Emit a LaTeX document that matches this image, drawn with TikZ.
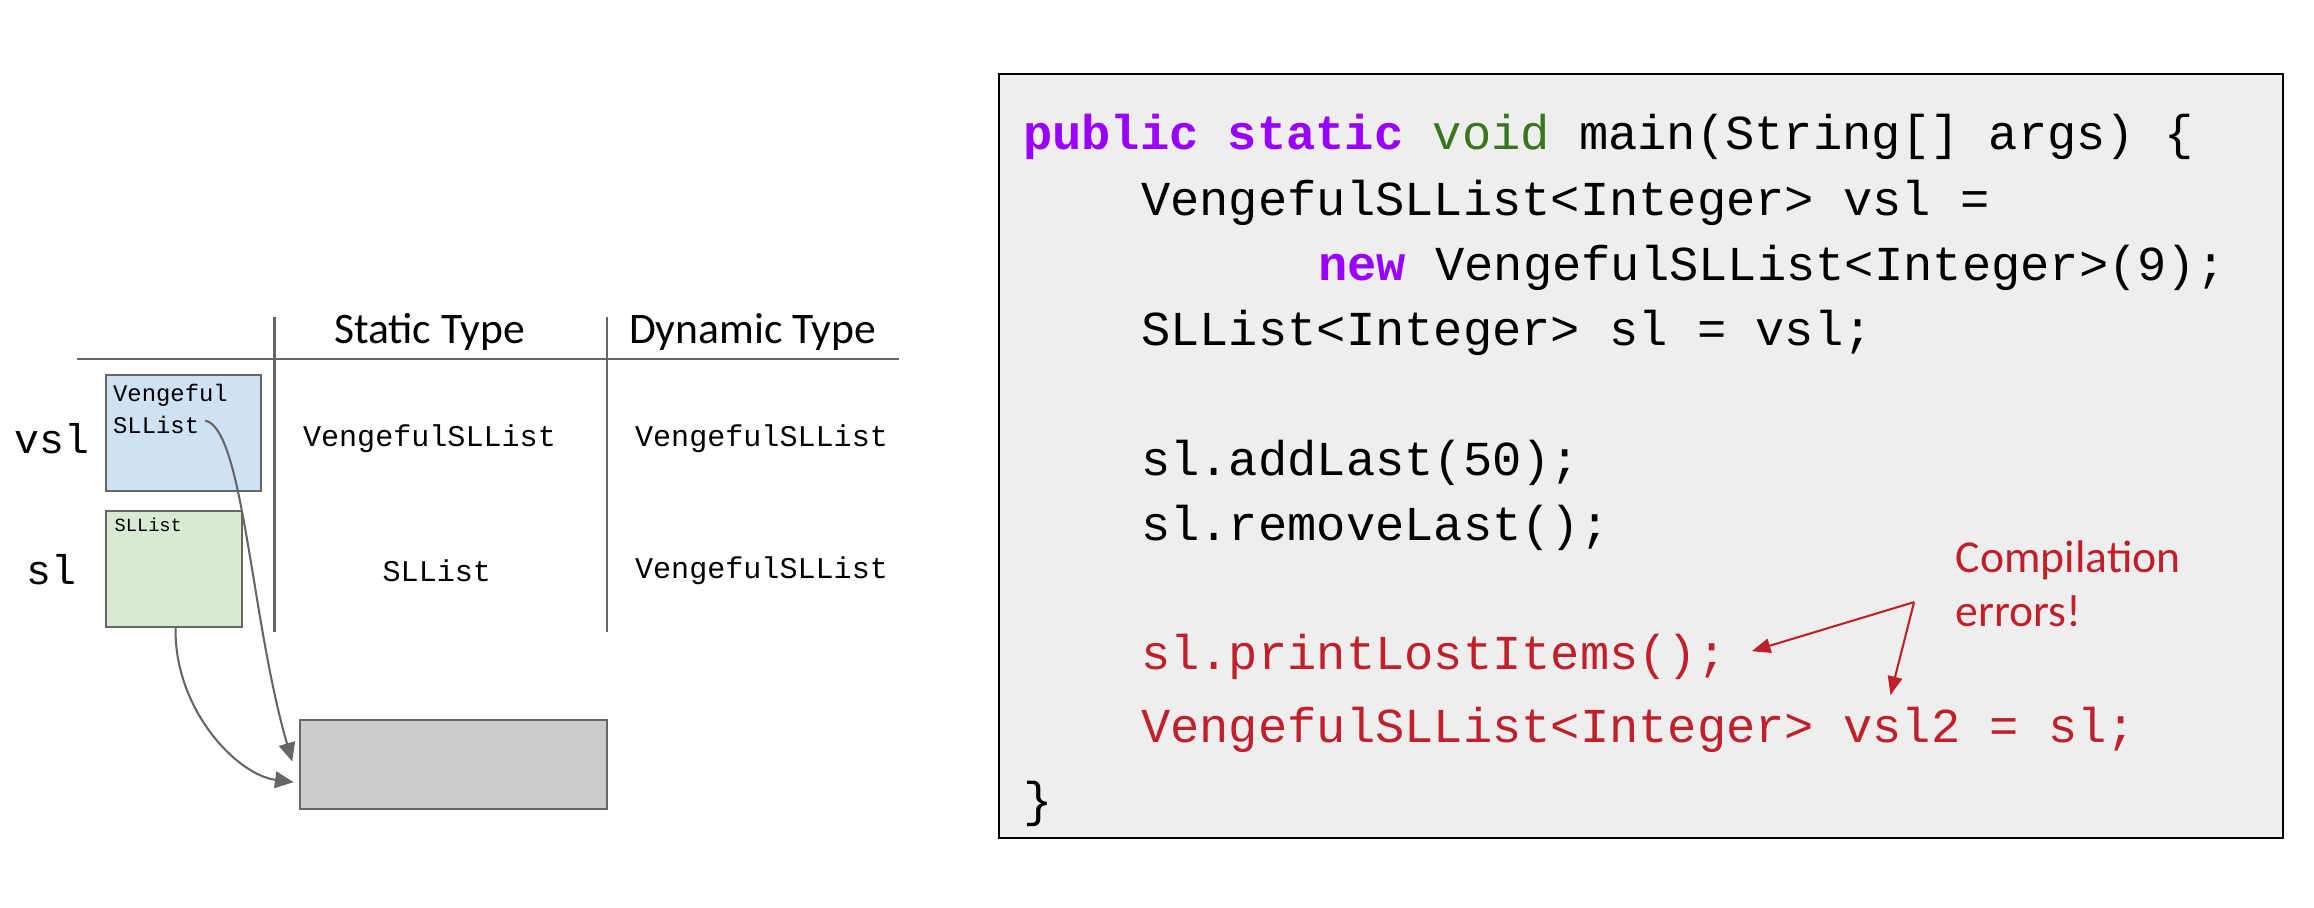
\documentclass[tikz,border=0pt]{standalone}
\usepackage{fontspec}
\setmainfont{Carlito}
\setmonofont{Liberation Mono}
\usetikzlibrary{arrows.meta}
\definecolor{kwpurple}{HTML}{9900FF}
\definecolor{kwgreen}{HTML}{38761D}
\definecolor{errred}{HTML}{C0202A}
\definecolor{vslblue}{HTML}{CFE2F3}
\definecolor{slgreen}{HTML}{D9EAD3}
\definecolor{heapgray}{HTML}{CCCCCC}
\definecolor{codebg}{HTML}{EEEEEE}
\definecolor{linegray}{HTML}{666666}
\tikzset{
  cell/.style={font=\ttfamily\fontsize{14.5}{16}\selectfont},
  head/.style={font=\fontsize{21}{23}\selectfont},
  varname/.style={font=\ttfamily\fontsize{20}{22}\selectfont},
  codeline/.style={anchor=base west,inner sep=0pt,font=\ttfamily\fontsize{23.5}{26}\selectfont},
  ref/.style={draw=linegray,line width=1pt,-{Triangle[length=9pt,width=8pt]}},
  errarrow/.style={draw=errred,line width=1pt,-{Triangle[length=9pt,width=7pt]}}
}
\newcommand{\kwd}[1]{\textcolor{kwpurple}{\bfseries #1}}
\begin{document}
\begin{tikzpicture}[x=0.025cm,y=-0.025cm]
  \useasboundingbox (0,0) rectangle (1568,615);

  % table
  \draw[linegray,line width=1pt] (52,243) -- (609,243);
  \draw[linegray,line width=1pt] (186,215) -- (186,428);
  \draw[linegray,line width=1pt] (411,215) -- (411,428);
  \node (hstatic)  [head] at (291,225) {Static Type};
  \node (hdynamic) [head] at (510,225) {Dynamic Type};

  \node (lvsl) [varname] at (35,297) {vsl};
  \node (lsl)  [varname] at (35,386) {sl};

  \node (vslbox) [draw=linegray,fill=vslblue,line width=1pt,minimum width=105*0.025cm,
    minimum height=79*0.025cm] at (124.5,293.5) {};
  \node (slbox) [draw=linegray,fill=slgreen,line width=1pt,minimum width=92*0.025cm,
    minimum height=79*0.025cm] at (118,385.5) {};
  \node (vsltext) [anchor=north west,inner sep=1pt,align=left,
    font=\ttfamily\fontsize{11.5}{15}\selectfont] at (75,259) {Vengeful\\SLList};
  \node (sltext) [anchor=north west,inner sep=1pt,
    font=\ttfamily\fontsize{9}{10}\selectfont] at (76,349) {SLList};

  \node (c11) [cell] at (291,297) {VengefulSLList};
  \node (c12) [cell] at (516,297) {VengefulSLList};
  \node (c21) [cell] at (296,387) {SLList};
  \node (c22) [cell] at (516,387) {VengefulSLList};

  \node (heap) [draw=linegray,fill=heapgray,line width=1pt,minimum width=208*0.025cm,
    minimum height=60*0.025cm] at (307,518) {};

  \coordinate (vslstart) at (139,285);
  \draw[ref] (vslstart) .. controls (165,290) and (170,420) .. (198,516);
  \draw[ref] (slbox.south) ++(1,0) .. controls (118,480) and (160,525) .. (199,530);

  % code
  \node (code) [draw=black,fill=codebg,line width=1pt,minimum width=870*0.025cm,
    minimum height=518*0.025cm] at (1112,309) {};
  \node (l1) [codeline] at (693,101) {\kwd{public static} \textcolor{kwgreen}{void} main(String[] args) \{};
  \node (l2) [codeline] at (773,146) {VengefulSLList<Integer> vsl =};
  \node (l3) [codeline] at (893,190) {\kwd{new} VengefulSLList<Integer>(9);};
  \node (l4) [codeline] at (773,234) {SLList<Integer> sl = vsl;};
  \node (l5) [codeline] at (773,322) {sl.addLast(50);};
  \node (l6) [codeline] at (773,366) {sl.removeLast();};
  \node (l7) [codeline,text=errred] at (773,454) {sl.printLostItems();};
  \node (l8) [codeline,text=errred] at (773,503) {VengefulSLList<Integer> vsl2 = sl;};
  \node (l9) [codeline] at (693,553) {\}};

  \node (errs) [anchor=north west,inner sep=0pt,align=left,text=errred,
    font=\fontsize{22}{26}\selectfont] at (1325,366) {Compilation\\errors!};
  \coordinate (errfork) at (1297,408);
  \draw[errarrow] (errfork) -- ([xshift=1.2em,yshift=0.3em]l7.east);
  \draw[errarrow] (errfork) -- (1281,471);
\end{tikzpicture}
\end{document}
